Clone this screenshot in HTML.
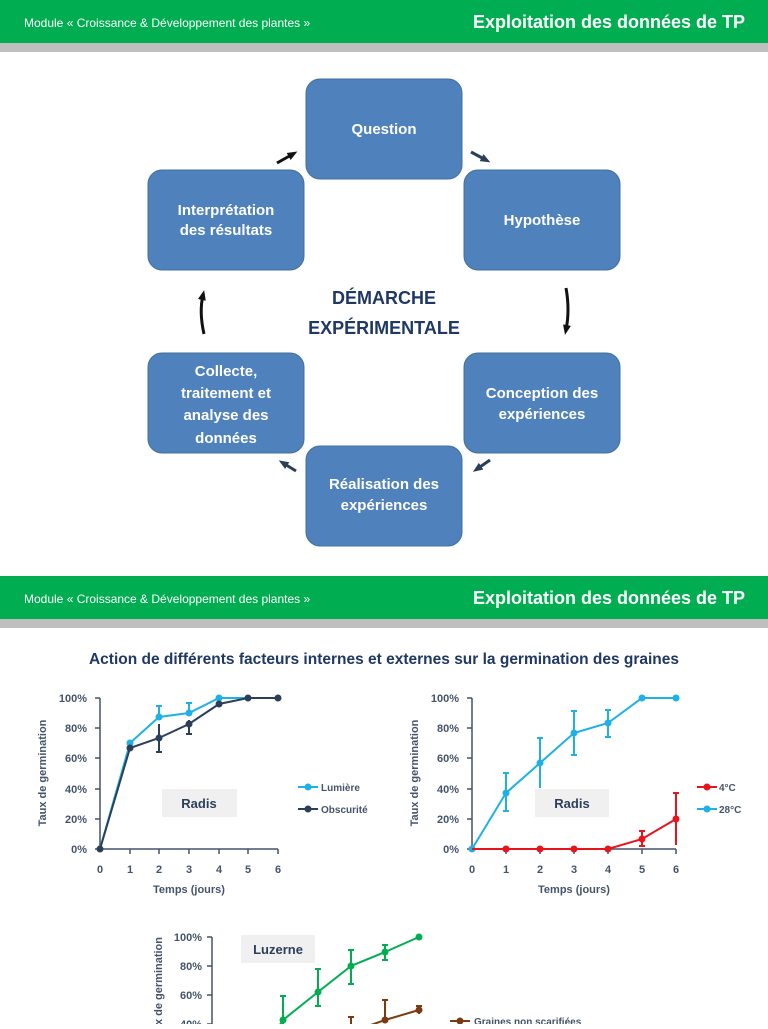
<!DOCTYPE html>
<html><head><meta charset="utf-8"><style>
body{margin:0;width:768px;height:1024px;overflow:hidden;background:#fff;font-family:"Liberation Sans",sans-serif}
svg text{font-family:"Liberation Sans",sans-serif}
</style></head><body>
<svg width="768" height="1024" viewBox="0 0 768 1024" xmlns="http://www.w3.org/2000/svg">
<defs><marker id="ah" markerUnits="userSpaceOnUse" markerWidth="10" markerHeight="10" refX="5" refY="5" orient="auto"><path d="M0,1L10,5L0,9z" fill="#111"/></marker>
<marker id="ah2" markerUnits="userSpaceOnUse" markerWidth="10" markerHeight="10" refX="5" refY="5" orient="auto"><path d="M0,1L10,5L0,9z" fill="#2b3f5a"/></marker></defs>
<!-- header 1 -->
<rect x="0" y="0" width="768" height="43" fill="#00ad50"/>
<rect x="0" y="43" width="768" height="9" fill="#bfbfbf"/>
<text x="24" y="27" font-size="12" fill="#fff">Module « Croissance &amp; Développement des plantes »</text>
<text x="745" y="28" font-size="18" fill="#fff" text-anchor="end" font-weight="bold">Exploitation des données de TP</text>
<!-- boxes -->
<g fill="#4f81bd" stroke="#41719c" stroke-width="1">
<rect x="306" y="79" width="156" height="100" rx="14"/>
<rect x="464" y="170" width="156" height="100" rx="14"/>
<rect x="148" y="170" width="156" height="100" rx="14"/>
<rect x="148" y="353" width="156" height="100" rx="14"/>
<rect x="464" y="353" width="156" height="100" rx="14"/>
<rect x="306" y="446" width="156" height="100" rx="14"/>
</g>
<g fill="#fff" font-size="15" font-weight="bold" text-anchor="middle">
<text x="384" y="134">Question</text>
<text x="542" y="225">Hypothèse</text>
<text x="226" y="215">Interprétation</text><text x="226" y="235">des résultats</text>
<text x="226" y="376">Collecte,</text><text x="226" y="398">traitement  et</text><text x="226" y="420">analyse des</text><text x="226" y="443">données</text>
<text x="542" y="398">Conception des</text><text x="542" y="419">expériences</text>
<text x="384" y="489">Réalisation des</text><text x="384" y="510">expériences</text>
</g>
<text x="384" y="304" font-size="18" font-weight="bold" fill="#1f3864" text-anchor="middle">DÉMARCHE</text>
<text x="384" y="334" font-size="18" font-weight="bold" fill="#1f3864" text-anchor="middle">EXPÉRIMENTALE</text>
<g stroke-width="3" fill="none">
<line x1="277" y1="163" x2="293" y2="154" stroke="#111" marker-end="url(#ah)"/>
<line x1="471" y1="152" x2="486" y2="160" stroke="#2b3f5a" marker-end="url(#ah2)"/>
<path d="M566,288 Q570,310 566,330" stroke="#111" marker-end="url(#ah)"/>
<line x1="490" y1="460" x2="477" y2="469" stroke="#2b3f5a" marker-end="url(#ah2)"/>
<line x1="296" y1="471" x2="283" y2="463" stroke="#2b3f5a" marker-end="url(#ah2)"/>
<path d="M204,334 Q199,312 203,295" stroke="#111" marker-end="url(#ah)"/>
</g>
<!-- header 2 -->
<rect x="0" y="576" width="768" height="43" fill="#00ad50"/>
<rect x="0" y="619" width="768" height="9" fill="#bfbfbf"/>
<text x="24" y="603" font-size="12" fill="#fff">Module « Croissance &amp; Développement des plantes »</text>
<text x="745" y="604" font-size="18" fill="#fff" text-anchor="end" font-weight="bold">Exploitation des données de TP</text>
<text x="384" y="664" font-size="15.5" font-weight="bold" fill="#1f3864" text-anchor="middle">Action de différents facteurs internes et externes sur la germination des graines</text>

<!-- chart 1 -->
<g font-size="11" font-weight="bold" fill="#44546a">
<g text-anchor="end"><text x="87" y="702">100%</text><text x="87" y="732">80%</text><text x="87" y="762">60%</text><text x="87" y="793">40%</text><text x="87" y="823">20%</text><text x="87" y="853">0%</text></g>
<g text-anchor="middle"><text x="100" y="873">0</text><text x="130" y="873">1</text><text x="159" y="873">2</text><text x="189" y="873">3</text><text x="219" y="873">4</text><text x="248" y="873">5</text><text x="278" y="873">6</text>
<text x="189" y="893">Temps (jours)</text></g>
<text transform="translate(46,773) rotate(-90)" text-anchor="middle">Taux de germination</text>
<text x="321" y="791" font-size="10">Lumière</text><text x="321" y="813" font-size="10">Obscurité</text>
</g>
<g stroke="#44546a" stroke-width="1.5"><line x1="100" y1="698" x2="100" y2="849"/><line x1="100" y1="849" x2="278" y2="849"/>
<path d="M95,698h5M95,728h5M95,758h5M95,789h5M95,819h5M95,849h5M130,849v5M159,849v5M189,849v5M219,849v5M248,849v5M278,849v5" fill="none"/></g>
<rect x="162" y="789" width="75" height="28" fill="#f0f0f0"/><text x="199" y="808" font-size="13" font-weight="bold" fill="#2b3f5a" text-anchor="middle">Radis</text>
<g stroke="#1fb0e6" stroke-width="2" fill="none"><polyline points="100,849 130,743 159,717 189,713 219,698 248,698 278,698"/><path d="M159,717v-11m-3,0h6M189,713v-10m-3,0h6"/></g>
<g fill="#1fb0e6"><circle cx="130" cy="743" r="3.5"/><circle cx="159" cy="717" r="3.5"/><circle cx="189" cy="713" r="3.5"/><circle cx="219" cy="698" r="3.5"/></g>
<g stroke="#2b3f5a" stroke-width="2" fill="none"><polyline points="100,849 130,748 159,738 189,724 219,704 248,698 278,698"/><path d="M159,724v28m-3,0h6M189,730v-10m0,10v4m-3,0h6"/></g>
<g fill="#2b3f5a"><circle cx="100" cy="849" r="3.5"/><circle cx="130" cy="748" r="3.5"/><circle cx="159" cy="738" r="3.5"/><circle cx="189" cy="724" r="3.5"/><circle cx="219" cy="704" r="3.5"/><circle cx="248" cy="698" r="3.5"/><circle cx="278" cy="698" r="3.5"/></g>
<line x1="298" y1="787" x2="318" y2="787" stroke="#1fb0e6" stroke-width="2"/><circle cx="308" cy="787" r="3.5" fill="#1fb0e6"/>
<line x1="298" y1="809" x2="318" y2="809" stroke="#2b3f5a" stroke-width="2"/><circle cx="308" cy="809" r="3.5" fill="#2b3f5a"/>

<!-- chart 2 -->
<g font-size="11" font-weight="bold" fill="#44546a">
<g text-anchor="end"><text x="459" y="702">100%</text><text x="459" y="732">80%</text><text x="459" y="762">60%</text><text x="459" y="793">40%</text><text x="459" y="823">20%</text><text x="459" y="853">0%</text></g>
<g text-anchor="middle"><text x="472" y="873">0</text><text x="506" y="873">1</text><text x="540" y="873">2</text><text x="574" y="873">3</text><text x="608" y="873">4</text><text x="642" y="873">5</text><text x="676" y="873">6</text>
<text x="574" y="893">Temps (jours)</text></g>
<text transform="translate(418,773) rotate(-90)" text-anchor="middle">Taux de germination</text>
<text x="719" y="791" font-size="10">4°C</text><text x="719" y="813" font-size="10">28°C</text>
</g>
<g stroke="#44546a" stroke-width="1.5"><line x1="472" y1="698" x2="472" y2="849"/><line x1="472" y1="849" x2="676" y2="849"/>
<path d="M467,698h5M467,728h5M467,758h5M467,789h5M467,819h5M467,849h5M506,849v5M540,849v5M574,849v5M608,849v5M642,849v5M676,849v5" fill="none"/></g>
<rect x="535" y="789" width="74" height="28" fill="#f0f0f0"/><text x="572" y="808" font-size="13" font-weight="bold" fill="#2b3f5a" text-anchor="middle">Radis</text>
<g stroke="#1fb0e6" stroke-width="2" fill="none"><polyline points="472,849 506,793 540,763 574,733 608,723 642,698 676,698"/>
<path d="M506,773v38m-3,0h6m-6,-38h6M540,738v50m-3,-50h6M574,711v44m-3,-44h6m-6,44h6M608,710v27m-3,-27h6m-6,27h6"/></g>
<g fill="#1fb0e6"><circle cx="472" cy="849" r="3.5"/><circle cx="506" cy="793" r="3.5"/><circle cx="540" cy="763" r="3.5"/><circle cx="574" cy="733" r="3.5"/><circle cx="608" cy="723" r="3.5"/><circle cx="642" cy="698" r="3.5"/><circle cx="676" cy="698" r="3.5"/></g>
<g stroke="#e8141b" stroke-width="2" fill="none"><polyline points="472,849 506,849 540,849 574,849 608,849 642,839 676,819"/>
<path d="M642,831v15m-3,-15h6m-6,15h6M676,793v52m-3,-52h6"/></g>
<g fill="#e8141b"><circle cx="506" cy="849" r="3.5"/><circle cx="540" cy="849" r="3.5"/><circle cx="574" cy="849" r="3.5"/><circle cx="608" cy="849" r="3.5"/><circle cx="642" cy="839" r="3.5"/><circle cx="676" cy="819" r="3.5"/></g>
<line x1="697" y1="787" x2="717" y2="787" stroke="#e8141b" stroke-width="2"/><circle cx="707" cy="787" r="3.5" fill="#e8141b"/>
<line x1="697" y1="809" x2="717" y2="809" stroke="#1fb0e6" stroke-width="2"/><circle cx="707" cy="809" r="3.5" fill="#1fb0e6"/>

<!-- chart 3 -->
<g font-size="11" font-weight="bold" fill="#44546a">
<g text-anchor="end"><text x="202" y="941">100%</text><text x="202" y="970">80%</text><text x="202" y="999">60%</text><text x="202" y="1028">40%</text></g>
<text transform="translate(162,937) rotate(-90)" text-anchor="end">Taux de germination</text>
<text x="474" y="1025" font-size="10">Graines non scarifiées</text>
</g>
<g stroke="#44546a" stroke-width="1.5"><line x1="212" y1="937" x2="212" y2="1024"/><path d="M207,937h5M207,966h5M207,995h5M207,1024h5" fill="none"/></g>
<rect x="241" y="935" width="74" height="28" fill="#f0f0f0"/><text x="278" y="954" font-size="13" font-weight="bold" fill="#2b3f5a" text-anchor="middle">Luzerne</text>
<g stroke="#00ad50" stroke-width="2" fill="none"><polyline points="270,1040 283,1020 318,992 351,966 385,952 419,937"/>
<path d="M283,996v28m-3,-28h6M318,969v37m-3,-37h6m-6,37h6M351,950v34m-3,-34h6m-6,34h6M385,945v15m-3,-15h6m-6,15h6"/></g>
<g fill="#00ad50"><circle cx="283" cy="1020" r="3.5"/><circle cx="318" cy="992" r="3.5"/><circle cx="351" cy="966" r="3.5"/><circle cx="385" cy="952" r="3.5"/><circle cx="419" cy="937" r="3.5"/></g>
<g stroke="#7b3b12" stroke-width="2" fill="none"><polyline points="351,1032 385,1020 419,1010"/>
<path d="M351,1017v10m-3,-10h6M385,1000v20m-3,-20h6M419,1006v8m-3,-8h6"/></g>
<g fill="#7b3b12"><circle cx="385" cy="1020" r="3.5"/><circle cx="419" cy="1010" r="3.5"/></g>
<line x1="450" y1="1021" x2="470" y2="1021" stroke="#7b3b12" stroke-width="2"/><circle cx="460" cy="1021" r="3.5" fill="#7b3b12"/>
</svg>
</body></html>
